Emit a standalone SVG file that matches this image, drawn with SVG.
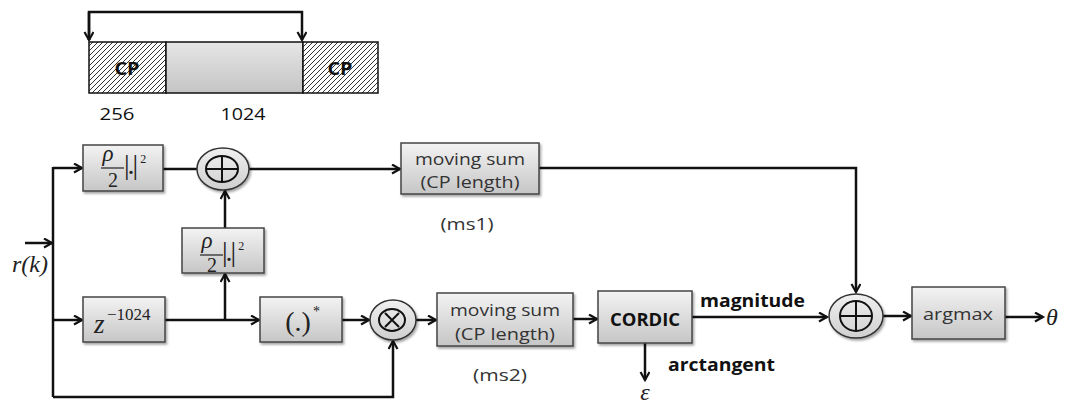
<svg xmlns="http://www.w3.org/2000/svg" width="1067" height="403" viewBox="0 0 1067 403">
<style>
.box{fill:url(#boxg);stroke:#444;stroke-width:1.5;filter:url(#sh)}
.ell{fill:url(#cirg);stroke:#333;stroke-width:1.5;filter:url(#sh)}
.inner{fill:none;stroke:#111;stroke-width:2}
.sym{stroke:#111;stroke-width:2;fill:none}
.ln{fill:none;stroke:#111;stroke-width:2.5}
.arr{marker-end:url(#ah)}
.sans{font-family:"Open Sans","Liberation Sans",sans-serif;fill:#333}
.lbl{font-family:"Open Sans","Liberation Sans",sans-serif;fill:#111}
.b{font-weight:bold}
.math{font-family:"Liberation Serif","DejaVu Serif",serif;fill:#222}
.it{font-style:italic}
.abs{letter-spacing:-2px}
</style>
<defs>
<linearGradient id="boxg" x1="0" y1="0" x2="0" y2="1">
<stop offset="0" stop-color="#f3f3f3"/>
<stop offset="1" stop-color="#c6c6c6"/>
</linearGradient>
<linearGradient id="cirg" x1="0" y1="0" x2="0" y2="1">
<stop offset="0" stop-color="#f0f0f0"/>
<stop offset="1" stop-color="#cfcfcf"/>
</linearGradient>
<linearGradient id="midg" x1="0" y1="0" x2="0" y2="1">
<stop offset="0" stop-color="#e6e6e6"/>
<stop offset="1" stop-color="#c4c4c4"/>
</linearGradient>
<pattern id="hatch" patternUnits="userSpaceOnUse" width="5" height="5">
<rect width="5" height="5" fill="#fff"/>
<path d="M-1,1 L1,-1 M0,5 L5,0 M4,6 L6,4" stroke="#333" stroke-width="1"/>
</pattern>
<filter id="sh" x="-10%" y="-10%" width="130%" height="130%">
<feDropShadow dx="1.5" dy="2" stdDeviation="1.2" flood-color="#000" flood-opacity="0.35"/>
</filter>
<marker id="ah" markerUnits="userSpaceOnUse" markerWidth="12" markerHeight="12" refX="9" refY="5" orient="auto">
<path d="M1,0.5 L9,5 L1,9.5" fill="none" stroke="#111" stroke-width="2.2"/>
</marker>
</defs>

<g id="frame">
<rect x="89" y="42" width="77" height="51" fill="url(#hatch)" stroke="#111" stroke-width="1.5"/>
<rect x="166" y="42" width="137" height="51" fill="url(#midg)" stroke="#111" stroke-width="1.5"/>
<rect x="303" y="42" width="75" height="51" fill="url(#hatch)" stroke="#111" stroke-width="1.5"/>
<text x="127" y="75" text-anchor="middle" font-size="17" class="lbl b" textLength="25" lengthAdjust="spacingAndGlyphs">CP</text>
<text x="340" y="75" text-anchor="middle" font-size="17" class="lbl b" textLength="25" lengthAdjust="spacingAndGlyphs">CP</text>
<text x="117" y="120" text-anchor="middle" font-size="17" class="lbl" textLength="35" lengthAdjust="spacingAndGlyphs">256</text>
<text x="243" y="120" text-anchor="middle" font-size="17" class="lbl" textLength="45" lengthAdjust="spacingAndGlyphs">1024</text>
</g>

<g id="connectors">
<path class="ln arr" d="M89,40 V12 H302 V40"/>
<path class="ln arr" d="M89,12 V40"/>
<path class="ln arr" d="M25,243 H52"/>
<path class="ln" d="M53,167 V397"/>
<path class="ln arr" d="M53,168 H82"/>
<path class="ln" d="M163,169 H197"/>
<path class="ln arr" d="M249,169 H400"/>
<path class="ln arr" d="M225,228 V191"/>
<path class="ln arr" d="M53,320 H82"/>
<path class="ln arr" d="M165,320 H259"/>
<path class="ln arr" d="M225,320 V274"/>
<path class="ln arr" d="M342,320 H369"/>
<path class="ln arr" d="M416,320 H436"/>
<path class="ln arr" d="M53,397 H393 V341"/>
<path class="ln arr" d="M573,319 H597"/>
<path class="ln arr" d="M692,317 H827"/>
<path class="ln arr" d="M645,343 V380"/>
<path class="ln arr" d="M539,168 H856 V292"/>
<path class="ln arr" d="M883,316 H911"/>
<path class="ln arr" d="M1005,317 H1043"/>
</g>

<g id="input">
<text x="12" y="272" font-size="24" class="math it">r(k)</text>
</g>

<g id="sq1">
<rect class="box" x="83" y="145" width="80" height="46"/>
<text x="108" y="161" text-anchor="middle" font-size="23" class="math it">ρ</text>
<line x1="101" y1="168" x2="124" y2="168" stroke="#222" stroke-width="1.2"/>
<text x="113" y="187" text-anchor="middle" font-size="20" class="math">2</text>
<text x="124" y="174" font-size="28" class="math"><tspan class="abs">|.|</tspan><tspan dx="4" dy="-11" font-size="12">2</tspan></text>
</g>

<g id="adder1">
<ellipse class="ell" cx="223" cy="169" rx="26" ry="21"/>
<ellipse class="inner" cx="222" cy="169" rx="16" ry="13"/>
<path class="sym" d="M206,169 H238 M222,156 V182"/>
</g>

<g id="ms1">
<rect class="box" x="401" y="143" width="138" height="51"/>
<text x="470" y="165" text-anchor="middle" font-size="17" class="sans" textLength="110" lengthAdjust="spacingAndGlyphs">moving sum</text>
<text x="470" y="188" text-anchor="middle" font-size="17" class="sans" textLength="99" lengthAdjust="spacingAndGlyphs">(CP length)</text>
<text x="467" y="230" text-anchor="middle" font-size="17" class="sans" textLength="53" lengthAdjust="spacingAndGlyphs">(ms1)</text>
</g>

<g id="sq2">
<rect class="box" x="182" y="228" width="82" height="45"/>
<text x="207" y="248" text-anchor="middle" font-size="23" class="math it">ρ</text>
<line x1="200" y1="255" x2="223" y2="255" stroke="#222" stroke-width="1.2"/>
<text x="212" y="272" text-anchor="middle" font-size="20" class="math">2</text>
<text x="222" y="261" font-size="28" class="math"><tspan class="abs">|.|</tspan><tspan dx="4" dy="-11" font-size="12">2</tspan></text>
</g>

<g id="delay">
<rect class="box" x="83" y="297" width="82" height="45"/>
<text x="94" y="333" font-size="27" class="math it">z</text>
<text x="107" y="320" font-size="17" class="math">−1024</text>
</g>

<g id="conj">
<rect class="box" x="260" y="297" width="82" height="45"/>
<text x="298" y="331" text-anchor="middle" font-size="28" class="math">(.)</text>
<text x="313" y="316" font-size="14" class="math">*</text>
</g>

<g id="mult">
<ellipse class="ell" cx="393" cy="320" rx="23" ry="20"/>
<ellipse class="inner" cx="392" cy="320" rx="13" ry="11"/>
<path class="sym" d="M385,313 L399,327 M399,313 L385,327"/>
</g>

<g id="ms2">
<rect class="box" x="437" y="293" width="136" height="53"/>
<text x="505" y="316" text-anchor="middle" font-size="17" class="sans" textLength="110" lengthAdjust="spacingAndGlyphs">moving sum</text>
<text x="505" y="340" text-anchor="middle" font-size="17" class="sans" textLength="100" lengthAdjust="spacingAndGlyphs">(CP length)</text>
<text x="500" y="381" text-anchor="middle" font-size="17" class="sans" textLength="54" lengthAdjust="spacingAndGlyphs">(ms2)</text>
</g>

<g id="cordic">
<rect class="box" x="598" y="291" width="94" height="52"/>
<text x="645" y="326" text-anchor="middle" font-size="17" class="lbl b" textLength="70" lengthAdjust="spacingAndGlyphs">CORDIC</text>
<text x="700" y="307" font-size="17" class="lbl b" textLength="105" lengthAdjust="spacingAndGlyphs">magnitude</text>
<text x="668" y="371" font-size="17" class="lbl b" textLength="107" lengthAdjust="spacingAndGlyphs">arctangent</text>
<text x="645" y="400" text-anchor="middle" font-size="24" class="math it">ε</text>
</g>

<g id="adder2">
<ellipse class="ell" cx="856" cy="316" rx="27" ry="22"/>
<ellipse class="inner" cx="856" cy="316" rx="16" ry="15"/>
<path class="sym" d="M840,316 H872 M856,301 V331"/>
</g>

<g id="argmax">
<rect class="box" x="912" y="287" width="93" height="52"/>
<text x="958" y="320" text-anchor="middle" font-size="17" class="sans" textLength="70" lengthAdjust="spacingAndGlyphs">argmax</text>
<text x="1046" y="325" font-size="24" class="math it">θ</text>
</g>
</svg>
